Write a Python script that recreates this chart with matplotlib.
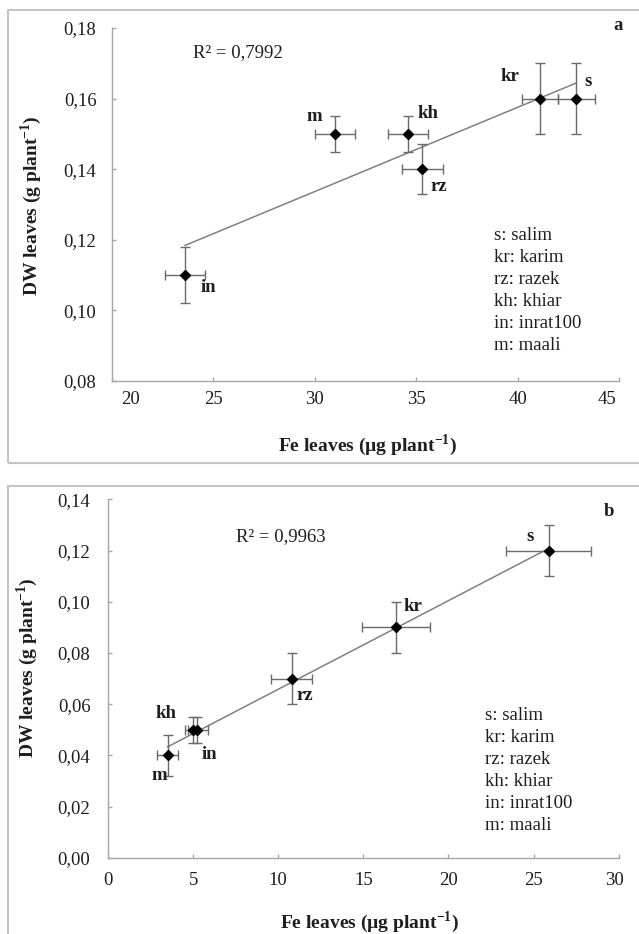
import numpy as np
import matplotlib.pyplot as plt
from matplotlib.patches import Rectangle

plt.rcParams['font.family'] = ['Liberation Serif', 'DejaVu Serif']
plt.rcParams['mathtext.fontset'] = 'custom'
plt.rcParams['mathtext.rm'] = 'Liberation Serif'
plt.rcParams['mathtext.bf'] = 'Liberation Serif:bold'

# cultivars, in legend order
codes = ['s', 'kr', 'rz', 'kh', 'in', 'm']
names = ['salim', 'karim', 'razek', 'khiar', 'inrat100', 'maali']

# panel a
fe_a = [42.9, 41.1, 35.3, 34.6, 23.6, 31.0]
fe_a_err = [0.9, 0.9, 1.0, 1.0, 1.0, 1.0]
dw_a = [0.16, 0.16, 0.14, 0.15, 0.11, 0.15]
dw_a_err = [0.01, 0.01, 0.007, 0.005, 0.008, 0.005]
r2_a = '0,7992'
xticks_a = [20, 25, 30, 35, 40, 45]
yticks_a = [0.08, 0.10, 0.12, 0.14, 0.16, 0.18]
ylabels_a = ['0,08', '0,10', '0,12', '0,14', '0,16', '0,18']

# panel b
fe_b = [25.9, 16.9, 10.8, 5.0, 5.2, 3.5]
fe_b_err = [2.5, 2.0, 1.2, 0.3, 0.7, 0.6]
dw_b = [0.12, 0.09, 0.07, 0.05, 0.05, 0.04]
dw_b_err = [0.01, 0.01, 0.01, 0.005, 0.005, 0.008]
r2_b = '0,9963'
xticks_b = [0, 5, 10, 15, 20, 25, 30]
yticks_b = [0.00, 0.02, 0.04, 0.06, 0.08, 0.10, 0.12, 0.14]
ylabels_b = ['0,00', '0,02', '0,04', '0,06', '0,08', '0,10', '0,12', '0,14']

W, H = 639, 934
fig = plt.figure(figsize=(W / 100, H / 100), dpi=100)


def fx(px):
    return px / W


def fy(py):
    return 1 - py / H


axis_gray = '#a6a6a6'
txt = '#1e1e1e'
fs = 13.5


def panel(box, frame, fe, fe_err, dw, dw_err, xticks, yticks, ylabels,
          label_off, xlab_shift, xlab_dy, ypad, letter, letter_pos, r2, r2_pos,
          leg_pos, ylab_pos, xlab_pos):
    # grey frame around the panel
    fig.add_artist(Rectangle((fx(frame[0]), fy(frame[3])),
                             fx(frame[2] - frame[0]), (frame[3] - frame[1]) / H,
                             transform=fig.transFigure, fill=False,
                             ec='#c4c4c4', lw=1.5))
    left, top, right, bottom = box
    ax = fig.add_axes([fx(left), fy(bottom), fx(right - left), (bottom - top) / H])
    ax.set_xlim(xticks[0], xticks[-1])
    ax.set_ylim(yticks[0], yticks[-1])
    for s in ['top', 'right']:
        ax.spines[s].set_visible(False)
    for s in ['left', 'bottom']:
        ax.spines[s].set_color(axis_gray)
        ax.spines[s].set_linewidth(1)
    ax.set_xticks(xticks)
    ax.set_yticks(yticks)
    ax.set_yticklabels(ylabels)
    ax.tick_params(axis='both', direction='in', length=3, color=axis_gray, width=1)
    ax.tick_params(axis='x', labelbottom=False)
    ax.tick_params(axis='y', labelsize=fs, labelcolor=txt, pad=ypad)
    # x tick labels (Excel squeezes the end labels inward)
    for i, xv in enumerate(xticks):
        ax.annotate(str(xv), (xv, 0), xycoords=('data', 'axes fraction'),
                    xytext=(xlab_shift.get(i, 0), -xlab_dy),
                    textcoords='offset pixels', ha='center', va='center',
                    fontsize=fs, color=txt)

    coef = np.polyfit(fe, dw, 1)
    xs = np.array([min(fe), max(fe)])
    ax.plot(xs, np.polyval(coef, xs), color='#808080', lw=1.1, zorder=2)

    ax.errorbar(fe, dw, xerr=fe_err, yerr=dw_err, fmt='D', color='black',
                ms=5.5, ecolor='#6a6a6a', elinewidth=1, capsize=3.5,
                capthick=1, zorder=3, clip_on=False)

    for c, x, y in zip(codes, fe, dw):
        dx, dy = label_off[c]
        ax.annotate(c, (x, y), xytext=(dx, dy), textcoords='offset pixels',
                    ha='center', va='center', fontsize=fs, fontweight='bold',
                    color=txt)

    fig.text(fx(r2_pos[0]), fy(r2_pos[1]), 'R² = ' + r2, ha='center',
             va='center', fontsize=fs, color=txt)
    fig.text(fx(letter_pos[0]), fy(letter_pos[1]), letter, ha='center',
             va='center', fontsize=fs, fontweight='bold', color=txt)
    for i, (c, n) in enumerate(zip(codes, names)):
        fig.text(fx(leg_pos[0]), fy(leg_pos[1] + 22 * i), c + ': ' + n,
                 ha='left', va='center', fontsize=fs, color=txt)

    fig.text(fx(ylab_pos[0]), fy(ylab_pos[1]), r'DW leaves (g plant$^{\mathbf{-1}}$)',
             rotation=90, ha='center', va='center', fontsize=14,
             fontweight='bold', color=txt)
    fig.text(fx(xlab_pos[0]), fy(xlab_pos[1]), r'Fe leaves (µg plant$^{\mathbf{-1}}$)',
             ha='center', va='center', fontsize=14, fontweight='bold',
             color=txt)
    return ax


off_a = {'s': (12, 17), 'kr': (-30, 22), 'rz': (17, -17), 'kh': (20, 20),
         'in': (23, -12), 'm': (-21, 17)}
off_b = {'s': (-19, 14), 'kr': (17, 21), 'rz': (13, -17), 'kh': (-27, 16),
         'in': (13, -25), 'm': (-8, -20)}

panel((112, 28, 619, 381), (8, 10, 650, 463), fe_a, fe_a_err, dw_a, dw_a_err,
      xticks_a, yticks_a, ylabels_a, off_a, {0: 18, 5: -12}, 19, 11.2,
      'a', (618, 25), r2_a, (238, 53), (494, 235), (31, 206), (367, 445))

panel((108, 499.3, 618.6, 857.7), (8, 486, 650, 950), fe_b, fe_b_err, dw_b, dw_b_err,
      xticks_b, yticks_b, ylabels_b, off_b, {6: -4}, 23, 12.6,
      'b', (609, 512), r2_b, (281, 537), (485, 715), (27, 668), (369, 922))

fig.savefig('out.png', dpi=100)
